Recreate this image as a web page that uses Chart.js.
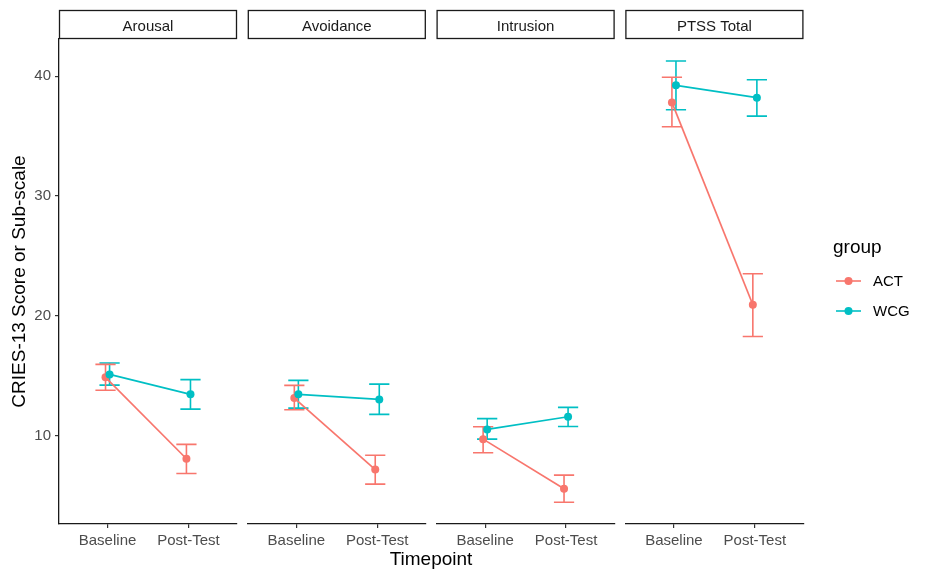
<!DOCTYPE html>
<html>
<head>
<meta charset="utf-8">
<script src="https://cdn.jsdelivr.net/npm/chart.js@4.4.1/dist/chart.umd.min.js"></script>
<style>
  body { margin: 0; background: #fff; }
  #wrap { position: relative; width: 931px; height: 580px; }
  #wrap canvas { position: absolute; left: 0; top: 0; }
</style>
</head>
<body>
<div id="wrap">
  <canvas id="p0" width="931" height="580"></canvas>
  <canvas id="p1" width="931" height="580"></canvas>
  <canvas id="p2" width="931" height="580"></canvas>
  <canvas id="p3" width="931" height="580"></canvas>
</div>
<script>
const facets = ["Arousal", "Avoidance", "Intrusion", "PTSS Total"];
const timepoints = ["Baseline", "Post-Test"];
const groups = ["ACT", "WCG"];
const yTicks = [10, 20, 30, 40];

// [Baseline, Post-Test] per facet
const actMean = [[14.85, 8.05], [13.12, 7.15], [9.69, 5.54], [37.82, 20.92]];
const actLow = [[13.77, 6.82], [12.15, 5.93], [8.55, 4.42], [35.79, 18.27]];
const actHigh = [[15.94, 9.25], [14.18, 8.35], [10.73, 6.68], [39.92, 23.51]];

const wcgMean = [[15.1, 13.43], [13.43, 13.01], [10.5, 11.56], [39.25, 38.22]];
const wcgLow = [[14.2, 12.2], [12.28, 11.76], [9.69, 10.75], [37.21, 36.68]];
const wcgHigh = [[16.05, 14.66], [14.6, 14.29], [11.4, 12.34], [41.28, 39.72]];

const colors = { ACT: "#F8766D", WCG: "#00BFC4" };
const FONT = "'Liberation Sans', Arial, sans-serif";

const panelLeft = [59, 247.8, 436.6, 625.4];
const panelWidth = 178;
const dodge = 0.025;

const errorBars = {
  id: "errorBars",
  beforeDatasetsDraw(chart) {
    const ctx = chart.ctx;
    const xs = chart.scales.x;
    const ys = chart.scales.y;
    chart.data.datasets.forEach((ds) => {
      ctx.save();
      ctx.strokeStyle = ds.borderColor;
      ctx.lineWidth = 1.6;
      ds.data.forEach((pt) => {
        const x = xs.getPixelForValue(pt.x);
        const xl = xs.getPixelForValue(pt.x - 0.125);
        const xr = xs.getPixelForValue(pt.x + 0.125);
        const yl = ys.getPixelForValue(pt.lo);
        const yh = ys.getPixelForValue(pt.hi);
        ctx.beginPath();
        ctx.moveTo(x, yl);
        ctx.lineTo(x, yh);
        ctx.moveTo(xl, yl);
        ctx.lineTo(xr, yl);
        ctx.moveTo(xl, yh);
        ctx.lineTo(xr, yh);
        ctx.stroke();
      });
      ctx.restore();
    });
  },
};

const strip = {
  id: "strip",
  afterDraw(chart, args, opts) {
    const ctx = chart.ctx;
    const a = chart.chartArea;
    ctx.save();
    ctx.strokeStyle = "#1a1a1a";
    ctx.lineWidth = 1.3;
    ctx.strokeRect(a.left + 0.5, 10.5, a.right - a.left - 1, a.top - 11);
    ctx.fillStyle = "#1a1a1a";
    ctx.font = "15px " + FONT;
    ctx.textAlign = "center";
    ctx.textBaseline = "alphabetic";
    ctx.fillText(opts.text, (a.left + a.right) / 2, 30.5);
    ctx.restore();
  },
};

const extras = {
  id: "extras",
  afterDraw(chart, args, opts) {
    if (!opts.show) return;
    const ctx = chart.ctx;
    ctx.save();
    ctx.fillStyle = "#000";
    ctx.font = "19px " + FONT;
    ctx.textAlign = "center";
    ctx.textBaseline = "alphabetic";
    ctx.fillText("Timepoint", 431, 565);

    // legend
    ctx.textAlign = "left";
    ctx.fillText("group", 833, 253);
    ctx.font = "15px " + FONT;
    ctx.textBaseline = "middle";
    groups.forEach((g, i) => {
      const y = 281 + i * 30;
      ctx.strokeStyle = colors[g];
      ctx.fillStyle = colors[g];
      ctx.lineWidth = 1.6;
      ctx.beginPath();
      ctx.moveTo(836, y);
      ctx.lineTo(861, y);
      ctx.stroke();
      ctx.beginPath();
      ctx.arc(848.5, y, 4, 0, Math.PI * 2);
      ctx.fill();
      ctx.fillStyle = "#000";
      ctx.fillText(g, 873, y + 1);
    });
    ctx.restore();
  },
};

function makeSeries(mean, low, high, f, shift) {
  return timepoints.map((t, i) => ({
    x: i + 1 + shift,
    y: mean[f][i],
    lo: low[f][i],
    hi: high[f][i],
  }));
}

function createPanel(f) {
  const first = f === 0;
  const config = {
    type: "line",
    data: {
      datasets: [
        {
          label: "WCG",
          data: makeSeries(wcgMean, wcgLow, wcgHigh, f, dodge),
          borderColor: colors.WCG,
          backgroundColor: colors.WCG,
          borderWidth: 1.7,
          pointRadius: 4,
          pointBorderWidth: 0,
          order: 0,
        },
        {
          label: "ACT",
          data: makeSeries(actMean, actLow, actHigh, f, -dodge),
          borderColor: colors.ACT,
          backgroundColor: colors.ACT,
          borderWidth: 1.7,
          pointRadius: 4,
          pointBorderWidth: 0,
          order: 1,
        },
      ],
    },
    options: {
      responsive: false,
      animation: false,
      events: [],
      layout: {
        padding: {
          left: first ? 0 : panelLeft[f],
          right: 931 - panelLeft[f] - panelWidth,
          top: 39,
          bottom: 0,
        },
      },
      plugins: {
        legend: { display: false },
        tooltip: { enabled: false },
        strip: { text: facets[f] },
        extras: { show: f === 3 },
      },
      scales: {
        x: {
          type: "linear",
          min: 0.4,
          max: 2.6,
          afterBuildTicks: (scale) => {
            scale.ticks = timepoints.map((t, i) => ({ value: i + 1 }));
          },
          afterFit: (scale) => {
            scale.height = 56;
          },
          ticks: {
            autoSkip: false,
            maxRotation: 0,
            color: "#4d4d4d",
            font: { family: FONT, size: 15 },
            padding: 4,
            callback: (v) => timepoints[v - 1],
          },
          grid: {
            drawOnChartArea: false,
            tickLength: 4,
            color: "#333",
            lineWidth: 1.2,
          },
          border: { display: true, color: "#1a1a1a", width: 1.3 },
        },
        y: {
          display: first,
          min: 2.6,
          max: 43.12,
          afterBuildTicks: (scale) => {
            scale.ticks = yTicks.map((v) => ({ value: v }));
          },
          afterFit: (scale) => {
            scale.width = first ? 59 : 0;
          },
          ticks: {
            color: "#4d4d4d",
            font: { family: FONT, size: 15 },
            padding: 4,
          },
          grid: {
            drawOnChartArea: false,
            tickLength: 4,
            color: "#333",
            lineWidth: 1.2,
          },
          border: { display: true, color: "#1a1a1a", width: 1.3 },
          title: {
            display: true,
            text: "CRIES-13 Score or Sub-scale",
            color: "#000",
            font: { family: FONT, size: 19 },
            padding: { top: 8, bottom: 0 },
          },
        },
      },
    },
    plugins: [errorBars, strip, extras],
  };
  new Chart(document.getElementById("p" + f), config);
}

document.addEventListener("DOMContentLoaded", () => {
  facets.forEach((name, f) => createPanel(f));
});
</script>
</body>
</html>
